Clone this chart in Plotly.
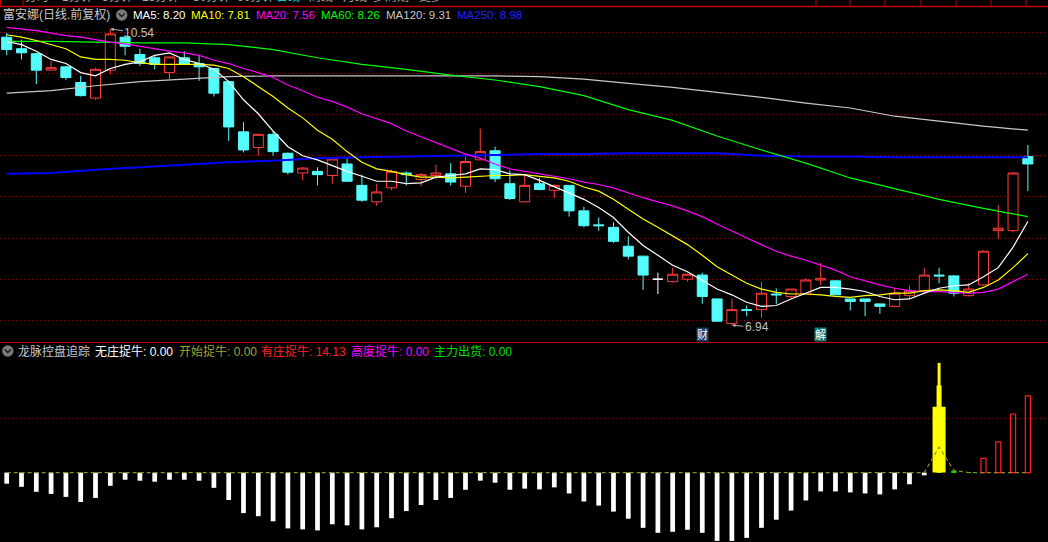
import plotly.graph_objects as go

W, H = 1048, 542
FONT = "Liberation Sans, Arial, Noto Sans CJK SC, sans-serif"

# ---------------- data ----------------
idx = list(range(70))
opens = [10.44, 10.30, 10.24, 10.04, 10.08, 9.89, 9.70, 10.04, 10.44, 10.23,
         10.19, 10.01, 10.19, 10.12, 10.06, 9.90, 9.29, 9.10, 9.26, 9.03,
         8.79, 8.81, 8.76, 8.90, 8.64, 8.44, 8.61, 8.79, 8.71, 8.76,
         8.78, 8.63, 8.95, 9.06, 8.66, 8.44, 8.66, 8.58, 8.64, 8.33,
         8.16, 8.13, 7.90, 7.78, 7.50, 7.47, 7.50, 7.55, 7.26, 6.96,
         7.13, 7.13, 7.32, 7.29, 7.32, 7.49, 7.48, 7.26, 7.26, 7.20,
         7.17, 7.30, 7.36, 7.55, 7.54, 7.30, 7.43, 8.09, 8.09, 8.99]
highs = [10.49, 10.41, 10.25, 10.15, 10.09, 9.97, 10.07, 10.54, 10.47, 10.30,
         10.22, 10.20, 10.27, 10.21, 10.06, 9.91, 9.41, 9.27, 9.29, 9.04,
         8.86, 8.86, 8.97, 8.97, 8.77, 8.66, 8.83, 8.81, 8.79, 8.89,
         8.91, 8.99, 9.33, 9.11, 8.82, 8.77, 8.73, 8.65, 8.64, 8.38,
         8.25, 8.19, 8.02, 7.78, 7.58, 7.64, 7.57, 7.58, 7.26, 7.26,
         7.18, 7.47, 7.39, 7.38, 7.51, 7.70, 7.49, 7.26, 7.26, 7.20,
         7.39, 7.42, 7.64, 7.64, 7.55, 7.45, 7.85, 8.40, 8.80, 9.13]
lows = [10.22, 10.17, 9.87, 10.04, 9.92, 9.72, 9.68, 9.99, 10.22, 10.09,
        10.05, 9.93, 10.10, 9.91, 9.72, 9.18, 9.04, 9.00, 9.00, 8.77,
        8.70, 8.64, 8.66, 8.68, 8.44, 8.39, 8.58, 8.64, 8.63, 8.71,
        8.64, 8.55, 8.95, 8.68, 8.46, 8.44, 8.58, 8.49, 8.26, 8.13,
        8.09, 7.94, 7.74, 7.37, 7.32, 7.46, 7.47, 7.20, 6.98, 6.94,
        7.05, 7.03, 7.20, 7.26, 7.32, 7.43, 7.31, 7.12, 7.05, 7.08,
        7.16, 7.26, 7.36, 7.45, 7.29, 7.29, 7.42, 7.99, 8.07, 8.57]
closes = [10.29, 10.25, 10.04, 10.07, 9.95, 9.73, 10.05, 10.48, 10.33, 10.12,
          10.11, 10.20, 10.11, 10.08, 9.76, 9.35, 9.07, 9.26, 9.05, 8.80,
          8.85, 8.77, 8.96, 8.69, 8.46, 8.56, 8.81, 8.77, 8.77, 8.79,
          8.68, 8.93, 9.05, 8.72, 8.48, 8.64, 8.59, 8.64, 8.33, 8.15,
          8.15, 7.96, 7.78, 7.55, 7.50, 7.56, 7.56, 7.29, 6.99, 7.13,
          7.12, 7.33, 7.31, 7.38, 7.49, 7.51, 7.31, 7.23, 7.23, 7.17,
          7.33, 7.36, 7.55, 7.54, 7.33, 7.38, 7.84, 8.12, 8.79, 8.90]

ma5 = [10.39, 10.35, 10.27, 10.17, 10.12, 10.01, 9.97, 10.06, 10.11, 10.14,
       10.22, 10.25, 10.17, 10.12, 10.05, 9.90, 9.68, 9.51, 9.30, 9.11,
       9.00, 8.95, 8.88, 8.81, 8.75, 8.69, 8.69, 8.66, 8.67, 8.74,
       8.76, 8.78, 8.84, 8.83, 8.78, 8.77, 8.70, 8.62, 8.54, 8.47,
       8.37, 8.25, 8.07, 7.91, 7.79, 7.67, 7.59, 7.49, 7.38, 7.31,
       7.22, 7.17, 7.18, 7.26, 7.33, 7.40, 7.40, 7.38, 7.35, 7.29,
       7.25, 7.26, 7.33, 7.39, 7.42, 7.43, 7.53, 7.64, 7.89, 8.20]
ma10 = [10.47, 10.44, 10.40, 10.35, 10.30, 10.20, 10.17, 10.17, 10.16, 10.13,
        10.11, 10.11, 10.11, 10.11, 10.10, 10.06, 9.96, 9.84, 9.72, 9.58,
        9.46, 9.31, 9.20, 9.05, 8.92, 8.84, 8.81, 8.77, 8.74, 8.74,
        8.73, 8.74, 8.75, 8.76, 8.76, 8.77, 8.75, 8.73, 8.69, 8.62,
        8.57, 8.47, 8.35, 8.23, 8.13, 8.02, 7.92, 7.79, 7.65, 7.55,
        7.45, 7.38, 7.34, 7.32, 7.32, 7.31, 7.29, 7.28, 7.30, 7.31,
        7.33, 7.33, 7.36, 7.37, 7.36, 7.34, 7.40, 7.49, 7.64, 7.81]
ma20 = [10.56, 10.54, 10.52, 10.49, 10.46, 10.44, 10.41, 10.38, 10.36, 10.33,
        10.30, 10.27, 10.25, 10.22, 10.16, 10.12, 10.06, 10.01, 9.95, 9.86,
        9.79, 9.71, 9.66, 9.59, 9.51, 9.45, 9.39, 9.30, 9.23, 9.16,
        9.09, 9.02, 8.97, 8.90, 8.84, 8.81, 8.78, 8.75, 8.72, 8.68,
        8.65, 8.61, 8.55, 8.49, 8.44, 8.39, 8.33, 8.26, 8.17, 8.08,
        8.00, 7.92, 7.84, 7.78, 7.73, 7.67, 7.61, 7.53, 7.48, 7.43,
        7.39, 7.36, 7.35, 7.35, 7.34, 7.33, 7.34, 7.38, 7.47, 7.56]
long_idx = [0, 3, 6, 9, 12, 15, 18, 21, 24, 27, 30, 33, 36, 39, 42, 45, 48, 51,
            54, 57, 60, 63, 66, 69]
ma60 = [10.39, 10.39, 10.38, 10.37, 10.37, 10.35, 10.29, 10.19, 10.11, 10.05,
        9.98, 9.92, 9.84, 9.73, 9.56, 9.43, 9.24, 9.07, 8.91, 8.73, 8.60, 8.47,
        8.36, 8.26]
ma120 = [9.76, 9.79, 9.85, 9.90, 9.93, 9.96, 9.97, 9.97, 9.97, 9.97, 9.97, 9.97,
         9.96, 9.93, 9.88, 9.83, 9.77, 9.71, 9.64, 9.58, 9.48, 9.42, 9.36, 9.31]
ma250 = [8.78, 8.79, 8.83, 8.86, 8.89, 8.92, 8.94, 8.97, 8.98, 8.99, 9.00, 9.01,
         9.02, 9.02, 9.03, 9.03, 9.03, 9.00, 8.99, 8.99, 8.98, 8.98, 8.98, 8.98]
price_grid = [7.0, 7.5, 8.0, 8.5, 9.0, 9.5, 10.0, 10.5]

# indicator panel
wuzhuang = [-2.04, -2.61, -3.53, -3.92, -4.47, -5.41, -4.66, -2.43, -1.31, -1.49,
            -1.67, -1.31, -1.31, -1.49, -2.80, -5.04, -7.45, -8.02, -8.96, -10.27,
            -10.45, -10.64, -9.51, -9.70, -10.45, -10.06, -8.39, -7.08, -5.96, -5.04,
            -4.66, -3.16, -1.49, -1.86, -3.16, -2.95, -3.09, -2.72, -3.83, -5.32,
            -6.07, -7.18, -8.48, -10.16, -11.08, -10.89, -10.52, -11.08, -12.57, -12.57,
            -12.01, -10.16, -8.67, -6.99, -5.13, -3.46, -3.46, -3.64, -3.83, -4.01,
            -3.09, -2.15, -0.5, None, None, None, None, None, None, None]
kaishi = [0.0] * 63 + [4.7, 0.4, 0.0, 0.0, 0.0, 0.0, 0.0]
youzhuang = [None] * 66 + [2.61, 5.65, 10.78, 14.13]
yellow_idx = [63]
yellow_base = [12.14]
yellow_mid = [16.04]
yellow_top = [20.2]
zhuli = [None] * 64 + [0.35, 0.1, None, None, None, None]
ind_grid = [10]


def fx(px):
    return px / W


def fy(py):
    return 1 - py / H


fig = go.Figure()

up_i = [i for i in idx if opens[i] != closes[i]]
flat_i = [i for i in idx if opens[i] == closes[i]]

fig.add_trace(go.Candlestick(
    x=up_i, open=[opens[i] for i in up_i], high=[highs[i] for i in up_i],
    low=[lows[i] for i in up_i], close=[closes[i] for i in up_i],
    increasing=dict(line=dict(color="#ff3c3c", width=1), fillcolor="#000000"),
    decreasing=dict(line=dict(color="#54fcfc", width=1), fillcolor="#54fcfc"),
    whiskerwidth=0, xaxis="x", yaxis="y", hoverinfo="skip"))
fig.add_trace(go.Candlestick(
    x=flat_i, open=[opens[i] for i in flat_i], high=[highs[i] for i in flat_i],
    low=[lows[i] for i in flat_i], close=[closes[i] for i in flat_i],
    increasing=dict(line=dict(color="#ffffff", width=1), fillcolor="#ffffff"),
    decreasing=dict(line=dict(color="#ffffff", width=1), fillcolor="#ffffff"),
    whiskerwidth=0, xaxis="x", yaxis="y", hoverinfo="skip"))

for xs, ys, col, wd in [(long_idx, ma250, "#0000ff", 2), (long_idx, ma120, "#c8c8c8", 1.2),
                        (long_idx, ma60, "#00ff00", 1.2), (idx, ma20, "#ff00ff", 1.2),
                        (idx, ma10, "#ffff00", 1.2), (idx, ma5, "#ffffff", 1.2)]:
    fig.add_trace(go.Scatter(x=xs, y=ys, mode="lines", line=dict(color=col, width=wd),
                             xaxis="x", yaxis="y", hoverinfo="skip"))

# indicator traces
fig.add_trace(go.Bar(x=idx, y=wuzhuang, width=0.32, marker=dict(color="#ffffff", line=dict(width=0)),
                     xaxis="x", yaxis="y2", hoverinfo="skip"))
fig.add_trace(go.Scatter(x=idx, y=kaishi, mode="lines",
                         line=dict(color="#8c8c28", width=1.2, dash="4px,3px"),
                         xaxis="x", yaxis="y2", hoverinfo="skip"))
for ys, wd in [(yellow_base, 0.88), (yellow_mid, 0.34), (yellow_top, 0.2)]:
    fig.add_trace(go.Bar(x=yellow_idx, y=ys, width=wd, marker=dict(color="#ffff00", line=dict(width=0)),
                         xaxis="x", yaxis="y2", hoverinfo="skip"))
fig.add_trace(go.Bar(x=idx, y=youzhuang, width=0.34,
                     marker=dict(color="rgba(0,0,0,0)", line=dict(color="#ff2020", width=1.2)),
                     xaxis="x", yaxis="y2", hoverinfo="skip"))
fig.add_trace(go.Bar(x=idx, y=zhuli, width=0.34, marker=dict(color="#00e000", line=dict(width=0)),
                     xaxis="x", yaxis="y2", hoverinfo="skip"))

# ---------------- layout ----------------
shapes = []
red = "#c00000"
shapes.append(dict(type="line", xref="paper", yref="paper", x0=0, x1=1, y0=fy(6.5), y1=fy(6.5),
                   line=dict(color=red, width=1.5)))
shapes.append(dict(type="rect", xref="paper", yref="paper", x0=fx(0.5), x1=fx(23), y0=fy(6.5), y1=fy(-2),
                   line=dict(color=red, width=1)))
for sx in [816, 850, 885, 921, 956, 991, 1026]:
    shapes.append(dict(type="line", xref="paper", yref="paper", x0=fx(sx), x1=fx(sx), y0=fy(6.5), y1=1,
                       line=dict(color=red, width=1)))
shapes.append(dict(type="line", xref="paper", yref="paper", x0=0, x1=1, y0=fy(342.5), y1=fy(342.5),
                   line=dict(color=red, width=1.2)))

for cx, cy in [(121.7, 15), (7.8, 351)]:
    r = 5.7
    shapes.append(dict(type="circle", xref="paper", yref="paper", x0=fx(cx - r), x1=fx(cx + r),
                       y0=fy(cy + r), y1=fy(cy - r), fillcolor="#7a7a7a", line=dict(width=0)))
    path = "M {:.5f} {:.5f} L {:.5f} {:.5f} L {:.5f} {:.5f}".format(
        fx(cx - 3), fy(cy - 1.5), fx(cx), fy(cy + 1.5), fx(cx + 3), fy(cy - 1.5))
    shapes.append(dict(type="path", xref="paper", yref="paper", path=path,
                       line=dict(color="#1a1a1a", width=1.5)))


def label(text, x, y, color, size=12):
    return dict(text=text, x=fx(x - 2), y=fy(y), xref="paper", yref="paper", xanchor="left",
                yanchor="middle", showarrow=False, font=dict(family=FONT, size=size, color=color))


annotations = []
menu = [("分时", 37), ("1分钟", 77), ("5分钟", 117), ("15分钟", 160), ("30分钟", 211), ("60分钟", 255),
        ("日线", 288), ("周线", 321), ("月线", 355), ("多周期", 391), ("更多", 431)]
for t, cx in menu:
    annotations.append(dict(text=t, x=fx(cx), y=fy(-3), xref="paper", yref="paper", xanchor="center",
                            yanchor="middle", showarrow=False,
                            font=dict(family=FONT, size=12, color="#00c8c8" if t == "日线" else "#a8a8a8")))

annotations += [
    label("富安娜(日线.前复权)", 3, 15, "#c8c8c8", 12),
    label("MA5: 8.20", 133, 15, "#ffffff", 11.5),
    label("MA10: 7.81", 191, 15, "#ffff00", 11.5),
    label("MA20: 7.56", 256, 15, "#ff00ff", 11.5),
    label("MA60: 8.26", 321, 15, "#00ff00", 11.5),
    label("MA120: 9.31", 386, 15, "#c8c8c8", 11.5),
    label("MA250: 8.98", 457, 15, "#2020ff", 11.5),
    label("龙脉控盘追踪", 17.6, 351, "#c8c8c8", 12),
    label("无庄捉牛: 0.00", 94.7, 351, "#ffffff", 12),
    label("开始捉牛: 0.00", 178.5, 351, "#a0a030", 12),
    label("有庄捉牛: 14.13", 261, 351, "#ff2020", 12),
    label("高度捉牛: 0.00", 351, 351, "#ff00ff", 12),
    label("主力出货: 0.00", 434.4, 351, "#00e000", 12),
]
annotations.append(dict(text="10.54", x=7, y=10.54, xref="x", yref="y", showarrow=True, ax=29, ay=4,
                        arrowhead=2, arrowsize=0.7, arrowwidth=1, arrowcolor="#b0b0b0",
                        font=dict(family=FONT, size=12, color="#c0c0c0")))
annotations.append(dict(text="6.94", x=49, y=6.94, xref="x", yref="y", showarrow=True, ax=25, ay=2,
                        arrowhead=2, arrowsize=0.7, arrowwidth=1, arrowcolor="#b0b0b0",
                        font=dict(family=FONT, size=12, color="#c0c0c0")))
annotations.append(dict(text="财", x=47, y=fy(334.5), xref="x", yref="paper", showarrow=False,
                        bgcolor="#1e3c66", borderpad=0, font=dict(family=FONT, size=11, color="#ffffff")))
annotations.append(dict(text="解", x=55, y=fy(334.5), xref="x", yref="paper", showarrow=False,
                        bgcolor="#127878", borderpad=0, font=dict(family=FONT, size=11, color="#ffffff")))

grid_col = "#900000"
fig.update_layout(
    width=W, height=H, margin=dict(l=0, r=0, t=0, b=0),
    paper_bgcolor="#000000", plot_bgcolor="#000000", showlegend=False,
    barmode="overlay", boxgap=0.32, boxgroupgap=0, hovermode=False,
    xaxis=dict(range=[-0.453, 70.36], showgrid=False, zeroline=False, showticklabels=False,
               ticks="", showline=False, rangeslider=dict(visible=False), anchor="y2"),
    yaxis=dict(domain=[fy(341), fy(20)], range=[6.749, 10.649], tickvals=price_grid,
               showticklabels=False, ticks="", gridcolor=grid_col, griddash="1px,3px", gridwidth=1,
               zeroline=False, showline=False),
    yaxis2=dict(domain=[0, fy(360)], range=[-12.77, 20.72], tickvals=ind_grid,
                showticklabels=False, ticks="", gridcolor=grid_col, griddash="1px,3px", gridwidth=1,
                zeroline=False, showline=False),
    shapes=shapes, annotations=annotations,
)

fig.write_html("out.html", config={"displayModeBar": False},
               post_script="document.body.style.margin='0px';document.body.style.background='#000';")
